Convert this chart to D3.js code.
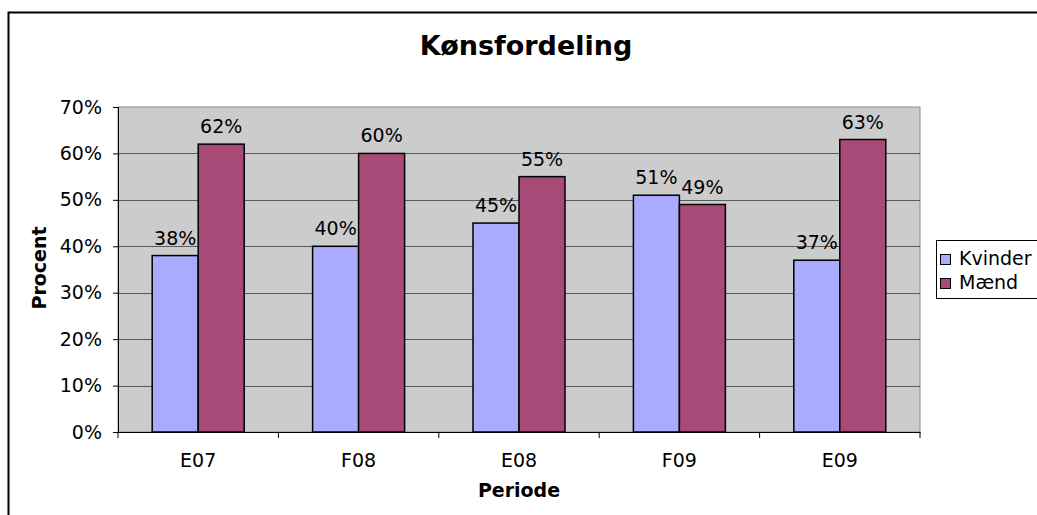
<!DOCTYPE html>
<html>
<head>
<meta charset="utf-8">
<script src="https://cdn.jsdelivr.net/npm/d3@7"></script>
<style>
  body { margin: 0; background: #fff; }
  svg { display: block; font-family: "DejaVu Sans", Verdana, sans-serif; }
</style>
</head>
<body>
<svg id="chart" width="1037" height="515"></svg>
<script>
const periods = ["E07", "F08", "E08", "F09", "E09"];
const seriesNames = ["Kvinder", "Mænd"];
const kvinder = [38, 40, 45, 51, 37];
const maend = [62, 60, 55, 49, 63];
const yTicks = [0, 10, 20, 30, 40, 50, 60, 70];
const colors = ["#aaaaff", "#a84a78"];

const svg = d3.select("#chart");
const plot = { left: 118, right: 920, top: 107, bottom: 432 };
const fs = 19;

// outer frame (right and bottom edges fall outside the picture)
svg.append("path")
  .attr("d", "M8.5,515 V12.5 H1037")
  .attr("fill", "none")
  .attr("stroke", "#000")
  .attr("stroke-width", 2);

const x = d3.scaleBand().domain(periods).range([plot.left, plot.right]);
const xs = d3.scaleBand().domain(seriesNames).range([0, 92]);
const y = d3.scaleLinear().domain([0, 70]).range([plot.bottom, plot.top]);

svg.append("rect")
  .attr("x", plot.left).attr("y", plot.top)
  .attr("width", plot.right - plot.left).attr("height", plot.bottom - plot.top)
  .attr("fill", "#cccccc")
  .attr("stroke", "#8a8a8a");

svg.append("g")
  .selectAll("line")
  .data(yTicks.slice(1, -1))
  .join("line")
  .attr("x1", plot.left).attr("x2", plot.right)
  .attr("y1", (d) => Math.round(y(d)) + 0.5).attr("y2", (d) => Math.round(y(d)) + 0.5)
  .attr("stroke", "#5a5a5a");

const rows = periods.map((p, i) => ({ period: p, values: [kvinder[i], maend[i]] }));

const groups = svg.append("g")
  .selectAll("g")
  .data(rows)
  .join("g")
  .attr("transform", (d) => `translate(${x(d.period) + (x.bandwidth() - 92) / 2},0)`);

groups.selectAll("rect")
  .data((d) => d.values.map((v, j) => ({ name: seriesNames[j], v, j })))
  .join("rect")
  .attr("x", (d) => xs(d.name))
  .attr("y", (d) => y(d.v))
  .attr("width", xs.bandwidth())
  .attr("height", (d) => y(0) - y(d.v))
  .attr("fill", (d) => colors[d.j])
  .attr("stroke", "#000")
  .attr("stroke-width", 1.5);

groups.selectAll("text")
  .data((d) => d.values.map((v, j) => ({ name: seriesNames[j], v, j })))
  .join("text")
  .attr("x", (d) => xs(d.name) + xs.bandwidth() / 2)
  .attr("y", (d) => y(d.v) - 11)
  .attr("text-anchor", "middle")
  .attr("font-size", fs)
  .text((d) => `${d.v}%`);

// axes
const yAxis = svg.append("g")
  .attr("transform", `translate(${plot.left},0)`)
  .call(d3.axisLeft(y).tickValues(yTicks).tickFormat((d) => `${d}%`).tickSize(5).tickPadding(11));
yAxis.select(".domain").attr("stroke", "#000");
yAxis.selectAll("text").attr("font-size", fs).attr("font-family", "DejaVu Sans").attr("fill", "#000");

const xAxis = svg.append("g")
  .attr("transform", `translate(0,${plot.bottom})`)
  .call(d3.axisBottom(x).tickSize(0).tickPadding(0));
xAxis.select(".domain").attr("stroke", "#000");
xAxis.selectAll("text")
  .attr("font-size", fs).attr("font-family", "DejaVu Sans").attr("fill", "#000")
  .attr("dy", null).attr("y", 35);

svg.append("g")
  .selectAll("line")
  .data(periods.map((p) => x(p)).concat([plot.right]))
  .join("line")
  .attr("x1", (d) => d).attr("x2", (d) => d)
  .attr("y1", plot.bottom).attr("y2", plot.bottom + 6)
  .attr("stroke", "#000");

// titles
svg.append("text")
  .attr("x", 526).attr("y", 55)
  .attr("text-anchor", "middle")
  .attr("font-size", 27).attr("font-weight", "bold")
  .text("Kønsfordeling");

svg.append("text")
  .attr("x", 519).attr("y", 497)
  .attr("text-anchor", "middle")
  .attr("font-size", fs).attr("font-weight", "bold")
  .text("Periode");

svg.append("text")
  .attr("transform", "translate(46,268) rotate(-90)")
  .attr("text-anchor", "middle")
  .attr("font-size", fs).attr("font-weight", "bold")
  .text("Procent");

// legend
const legend = svg.append("g").attr("transform", "translate(936,240)");
legend.append("rect")
  .attr("x", 0.5).attr("y", 0.5).attr("width", 110).attr("height", 58)
  .attr("fill", "#fff").attr("stroke", "#000");
const items = legend.selectAll("g")
  .data(seriesNames)
  .join("g")
  .attr("transform", (d, i) => `translate(4,${25 + i * 24})`);
items.append("rect")
  .attr("x", 0.5).attr("y", -10.5).attr("width", 10).attr("height", 10)
  .attr("fill", (d, i) => colors[i]).attr("stroke", "#000");
items.append("text")
  .attr("x", 19).attr("y", 0)
  .attr("font-size", fs)
  .text((d) => d);
</script>
</body>
</html>
